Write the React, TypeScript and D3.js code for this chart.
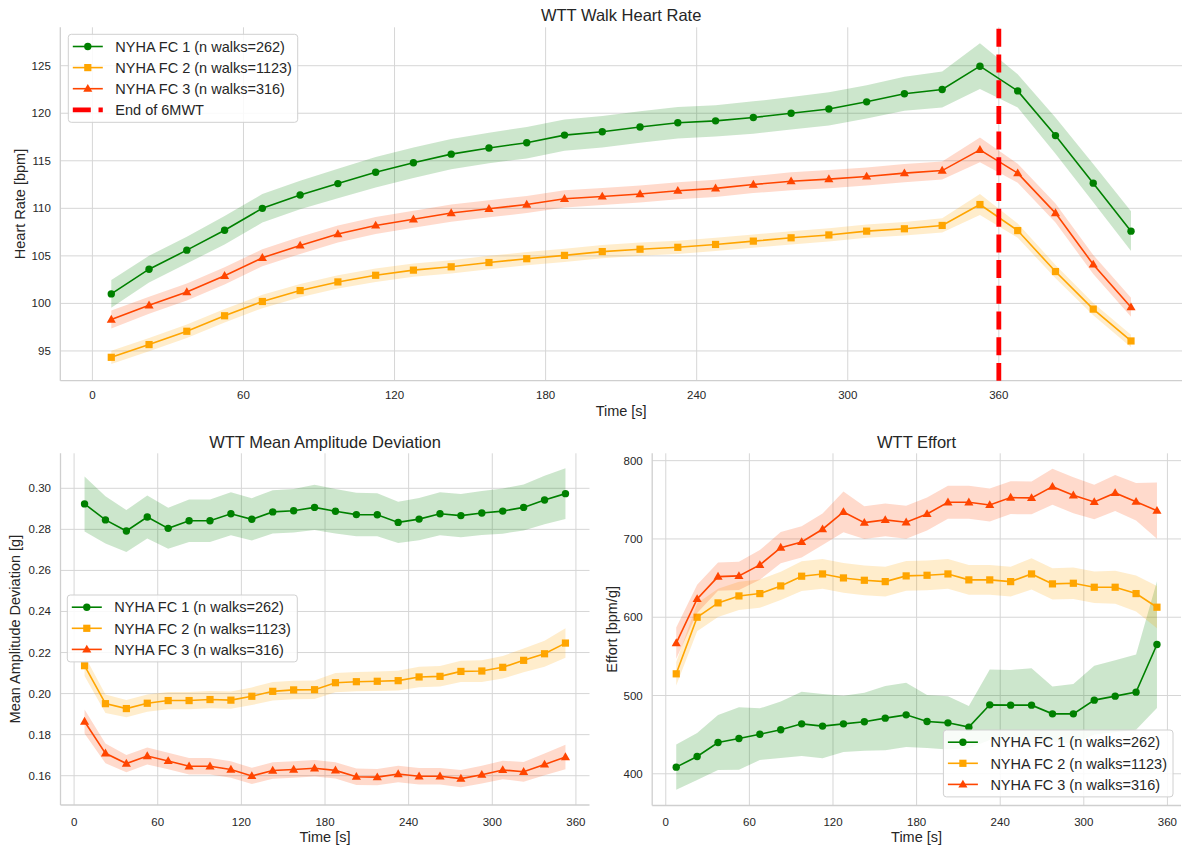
import React from 'react';
import * as d3 from 'd3';

// ---------------- DATA ----------------
const hrTime = [7.5, 22.5, 37.5, 52.5, 67.5, 82.5, 97.5, 112.5, 127.5, 142.5, 157.5, 172.5, 187.5, 202.5, 217.5, 232.5, 247.5, 262.5, 277.5, 292.5, 307.5, 322.5, 337.5, 352.5, 367.5, 382.5, 397.5, 412.5];
const hrFc1 = [101.0, 103.6, 105.6, 107.7, 110.0, 111.4, 112.6, 113.8, 114.8, 115.7, 116.35, 116.9, 117.7, 118.05, 118.55, 119.0, 119.2, 119.55, 120.0, 120.45, 121.2, 122.05, 122.5, 124.95, 122.35, 117.65, 112.65, 107.6];
const hrFc1Ci = [1.45, 1.4, 1.4, 1.5, 1.5, 1.5, 1.55, 1.6, 1.6, 1.6, 1.6, 1.65, 1.65, 1.65, 1.65, 1.65, 1.65, 1.7, 1.7, 1.75, 1.75, 1.8, 1.9, 2.4, 1.75, 1.9, 2.0, 2.1];
const hrFc2 = [94.33, 95.67, 97.07, 98.7, 100.2, 101.35, 102.26, 102.96, 103.5, 103.85, 104.3, 104.7, 105.05, 105.45, 105.7, 105.9, 106.2, 106.55, 106.9, 107.2, 107.6, 107.85, 108.2, 110.4, 107.66, 103.35, 99.4, 96.05];
const hrFc2Ci = [0.7, 0.7, 0.7, 0.7, 0.7, 0.7, 0.7, 0.7, 0.7, 0.7, 0.7, 0.7, 0.7, 0.7, 0.7, 0.7, 0.7, 0.7, 0.7, 0.7, 0.7, 0.7, 0.75, 1.1, 0.75, 0.7, 0.65, 0.65];
const hrFc3 = [98.3, 99.8, 101.2, 102.9, 104.8, 106.1, 107.3, 108.2, 108.85, 109.5, 109.95, 110.4, 111.0, 111.25, 111.5, 111.85, 112.1, 112.5, 112.85, 113.07, 113.35, 113.7, 113.97, 116.15, 113.7, 109.5, 104.1, 99.6];
const hrFc3Ci = [0.95, 0.9, 0.9, 0.9, 0.9, 0.9, 0.9, 0.9, 0.9, 0.9, 0.9, 0.9, 0.9, 0.9, 0.9, 0.9, 0.9, 0.9, 0.95, 0.95, 0.95, 0.95, 0.95, 1.3, 1.0, 1.0, 1.0, 1.0];

const wTime = [7.5, 22.5, 37.5, 52.5, 67.5, 82.5, 97.5, 112.5, 127.5, 142.5, 157.5, 172.5, 187.5, 202.5, 217.5, 232.5, 247.5, 262.5, 277.5, 292.5, 307.5, 322.5, 337.5, 352.5];

const madFc1 = [0.2924, 0.2846, 0.2792, 0.2860, 0.2805, 0.2842, 0.2842, 0.2876, 0.2849, 0.2885, 0.2891, 0.2907, 0.2888, 0.2872, 0.2871, 0.2834, 0.2850, 0.2876, 0.2867, 0.2880, 0.2889, 0.2907, 0.2943, 0.2974];
const madFc1Ci = [0.0134, 0.0115, 0.0102, 0.0105, 0.0100, 0.0103, 0.0103, 0.0105, 0.0103, 0.0105, 0.0106, 0.0110, 0.0108, 0.0106, 0.0105, 0.0100, 0.0103, 0.0105, 0.0105, 0.0107, 0.0110, 0.0112, 0.0118, 0.0124];
const madFc2 = [0.2136, 0.1951, 0.1927, 0.1953, 0.1966, 0.1966, 0.1971, 0.1968, 0.1987, 0.2011, 0.2018, 0.2019, 0.2053, 0.2058, 0.2060, 0.2063, 0.2081, 0.2084, 0.2108, 0.2110, 0.2128, 0.2162, 0.2194, 0.2246];
const madFc2Ci = [0.005, 0.0045, 0.0042, 0.0042, 0.0042, 0.0042, 0.0042, 0.0042, 0.0043, 0.0045, 0.0045, 0.0045, 0.0047, 0.0047, 0.0047, 0.0048, 0.0050, 0.0050, 0.0052, 0.0053, 0.0055, 0.0058, 0.0063, 0.0072];
const madFc3 = [0.1864, 0.1709, 0.1659, 0.1696, 0.1672, 0.1646, 0.1646, 0.1630, 0.1599, 0.1625, 0.1630, 0.1636, 0.1626, 0.1595, 0.1593, 0.1608, 0.1597, 0.1597, 0.1586, 0.1605, 0.1628, 0.1619, 0.1655, 0.1691];
const madFc3Ci = [0.0058, 0.0048, 0.0042, 0.0042, 0.0040, 0.0040, 0.0040, 0.0040, 0.0040, 0.0040, 0.0040, 0.0040, 0.0040, 0.0040, 0.0040, 0.0040, 0.0040, 0.0040, 0.0042, 0.0043, 0.0045, 0.0048, 0.0053, 0.0060];

const effFc1 = [408.5, 422.1, 440.0, 445.1, 450.6, 456.2, 463.8, 460.9, 463.8, 466.4, 471.1, 475.3, 466.8, 465.1, 459.6, 488.1, 487.7, 487.7, 476.6, 476.6, 494.1, 499.2, 504.3, 565.1];
const effFc1Ci = [29, 30, 35, 40, 33, 36, 41, 41, 36, 37, 41, 41, 34, 34, 27, 45, 45, 47, 35, 38, 44, 46, 48, 81];
const effFc2 = [527.7, 600.0, 618.3, 627.2, 630.2, 640.0, 652.4, 655.3, 650.2, 647.2, 645.5, 652.8, 653.6, 655.3, 647.7, 647.7, 645.5, 655.3, 642.6, 643.4, 638.3, 638.3, 630.2, 612.8];
const effFc2Ci = [15, 18, 18, 18, 18, 18, 19, 19, 19, 19, 19, 19, 19, 19, 19, 19, 19, 20, 20, 20, 20, 21, 23, 27];
const effFc3 = [566.9, 623.4, 651.9, 652.8, 666.8, 688.9, 696.2, 712.4, 734.5, 720.8, 724.3, 721.3, 731.9, 746.8, 746.8, 743.4, 752.8, 752.4, 766.8, 755.8, 747.2, 758.7, 747.6, 736.1];
const effFc3Ci = [20, 18, 18, 18, 19, 20, 20, 20, 26, 21, 21, 21, 21, 21, 21, 21, 21, 21, 23, 23, 22, 23, 24, 36];

const seriesNames = ['NYHA FC 1 (n walks=262)', 'NYHA FC 2 (n walks=1123)', 'NYHA FC 3 (n walks=316)'];
const endLabel = 'End of 6MWT';
const endTime = 360;

const xTicks = [0, 60, 120, 180, 240, 300, 360];
const hrTicks = [95, 100, 105, 110, 115, 120, 125];
const madTicks = [0.16, 0.18, 0.20, 0.22, 0.24, 0.26, 0.28, 0.30];
const effTicks = [400, 500, 600, 700, 800];

// ---------------- STYLE ----------------
const FONT = '"Liberation Sans", Arial, Helvetica, sans-serif';
const TXT = '#262626';
const GRID = '#d6d6d6';
const COLORS = ['#008000', '#FFA500', '#FF4500'];
const MARKERS = ['circle', 'square', 'triangle'];

type Ser = { name: string; color: string; marker: string; y: number[]; ci: number[] };

function Marker({ kind, x, y, color }: { kind: string; x: number; y: number; color: string }) {
  if (kind === 'circle') return <circle cx={x} cy={y} r={3.7} fill={color} />;
  if (kind === 'square') return <rect x={x - 3.6} y={y - 3.6} width={7.2} height={7.2} fill={color} />;
  const p = d3.symbol(d3.symbolTriangle, 36)() as string;
  return <path d={p} transform={`translate(${x},${y + 0.5})`} fill={color} />;
}

type LegendItem = { label: string; color: string; marker: string | null };

function Legend({ x, y, w, items }: { x: number; y: number; w: number; items: LegendItem[] }) {
  const h = 24.5 + (items.length - 1) * 21.1 + 0.2;
  return (
    <g>
      <rect x={x} y={y} width={w} height={h} rx={3} ry={3} fill="white" fillOpacity={0.85} stroke="#d0d0d0" strokeWidth={1} />
      {items.map((it, i) => {
        const cy = y + 12.2 + i * 21.1;
        return (
          <g key={i}>
            {it.marker ? (
              <>
                <line x1={x + 4.5} x2={x + 34.5} y1={cy} y2={cy} stroke={it.color} strokeWidth={1.6} />
                <Marker kind={it.marker} x={x + 19.5} y={cy} color={it.color} />
              </>
            ) : (
              <line x1={x + 4.5} x2={x + 34.5} y1={cy} y2={cy} stroke={it.color} strokeWidth={4.8} strokeDasharray="18 7.7" />
            )}
            <text x={x + 47} y={cy + 5.2} fontSize={14.5} fill={TXT} fontFamily={FONT}>{it.label}</text>
          </g>
        );
      })}
    </g>
  );
}

type PanelProps = {
  left: number; right: number; top: number; bottom: number;
  xDomain: [number, number]; yDomain: [number, number];
  yTicks: number[]; yFmt: (v: number) => string;
  time: number[]; series: Ser[];
  title: string; titleY: number; ylabel: string; ylabelX: number;
  xTickDy: number; xLabelDy: number;
  vline?: number;
  legend?: { x: number; y: number; w: number; items: LegendItem[] };
};

function Panel(p: PanelProps) {
  const x = d3.scaleLinear().domain(p.xDomain).range([p.left, p.right]);
  const y = d3.scaleLinear().domain(p.yDomain).range([p.bottom, p.top]);
  const cx = (p.left + p.right) / 2;
  const cy = (p.top + p.bottom) / 2;
  return (
    <g>
      {/* grid */}
      {xTicks.map(t => (
        <line key={'gx' + t} x1={x(t)} x2={x(t)} y1={p.top} y2={p.bottom} stroke={GRID} strokeWidth={1} />
      ))}
      {p.yTicks.map(t => (
        <line key={'gy' + t} x1={p.left} x2={p.right} y1={y(t)} y2={y(t)} stroke={GRID} strokeWidth={1} />
      ))}
      {/* spines */}
      <line x1={p.left} x2={p.left} y1={p.top} y2={p.bottom} stroke="#cfcfcf" strokeWidth={1.3} />
      <line x1={p.left} x2={p.right} y1={p.bottom} y2={p.bottom} stroke="#cfcfcf" strokeWidth={1.3} />
      {/* series */}
      {p.series.map((s, si) => {
        const area = d3.area<number>()
          .x((_, i) => x(p.time[i]))
          .y0((d, i) => y(d - s.ci[i]))
          .y1((d, i) => y(d + s.ci[i]));
        const line = d3.line<number>().x((_, i) => x(p.time[i])).y(d => y(d));
        return (
          <g key={si}>
            <path d={area(s.y) as string} fill={s.color} fillOpacity={0.2} stroke="none" />
            <path d={line(s.y) as string} fill="none" stroke={s.color} strokeWidth={1.6} />
            {s.y.map((v, i) => (
              <Marker key={i} kind={s.marker} x={x(p.time[i])} y={y(v)} color={s.color} />
            ))}
          </g>
        );
      })}
      {p.vline !== undefined && (
        <line x1={x(p.vline)} x2={x(p.vline)} y1={p.top + 1.5} y2={p.bottom} stroke="#FF0000" strokeWidth={4.8} strokeDasharray="18 7.7" />
      )}
      {/* tick labels */}
      {xTicks.map(t => (
        <text key={'tx' + t} x={x(t)} y={p.bottom + p.xTickDy + 4} textAnchor="middle" fontSize={11.5} fill={TXT} fontFamily={FONT}>{t}</text>
      ))}
      {p.yTicks.map(t => (
        <text key={'ty' + t} x={p.left - 9.5} y={y(t) + 4} textAnchor="end" fontSize={11.5} fill={TXT} fontFamily={FONT}>{p.yFmt(t)}</text>
      ))}
      {/* labels */}
      <text x={cx} y={p.bottom + p.xLabelDy + 5} textAnchor="middle" fontSize={14.5} fill={TXT} fontFamily={FONT}>Time [s]</text>
      <text transform={`translate(${p.ylabelX + 5},${cy}) rotate(-90)`} textAnchor="middle" fontSize={14.5} fill={TXT} fontFamily={FONT}>{p.ylabel}</text>
      <text x={cx} y={p.titleY + 5.8} textAnchor="middle" fontSize={16.5} fill={TXT} fontFamily={FONT}>{p.title}</text>
      {p.legend && <Legend {...p.legend} />}
    </g>
  );
}

function mk(ys: number[][], cis: number[][]): Ser[] {
  return ys.map((y, i) => ({ name: seriesNames[i], color: COLORS[i], marker: MARKERS[i], y, ci: cis[i] }));
}

export default function App() {
  const hrSeries = mk([hrFc1, hrFc2, hrFc3], [hrFc1Ci, hrFc2Ci, hrFc3Ci]);
  const madSeries = mk([madFc1, madFc2, madFc3], [madFc1Ci, madFc2Ci, madFc3Ci]);
  const effSeries = mk([effFc1, effFc2, effFc3], [effFc1Ci, effFc2Ci, effFc3Ci]);
  const baseItems: LegendItem[] = seriesNames.map((n, i) => ({ label: n, color: COLORS[i], marker: MARKERS[i] }));
  const topItems: LegendItem[] = [...baseItems, { label: endLabel, color: '#FF0000', marker: null }];
  return (
    <svg width={1184} height={849} style={{ position: 'absolute', left: 0, top: 0, background: 'white' }}>
      <rect x={0} y={0} width={1184} height={849} fill="white" />
      <Panel
        left={60.3} right={1182} top={27.3} bottom={380.7}
        xDomain={[-12.75, 432.75]} yDomain={[91.87, 129.04]}
        yTicks={hrTicks} yFmt={v => String(v)}
        time={hrTime} series={hrSeries}
        title="WTT Walk Heart Rate" titleY={15} ylabel="Heart Rate [bpm]" ylabelX={20}
        xTickDy={14.3} xLabelDy={29.8}
        vline={endTime}
        legend={{ x: 68.3, y: 34.3, w: 229.4, items: topItems }}
      />
      <Panel
        left={60.5} right={589.5} top={453.3} bottom={805}
        xDomain={[-9.75, 369.75]} yDomain={[0.14573, 0.31705]}
        yTicks={madTicks} yFmt={v => v.toFixed(2)}
        time={wTime} series={madSeries}
        title="WTT Mean Amplitude Deviation" titleY={441.7} ylabel="Mean Amplitude Deviation [g]" ylabelX={15}
        xTickDy={16.5} xLabelDy={31.6}
        legend={{ x: 67.3, y: 595, w: 230, items: baseItems }}
      />
      <Panel
        left={652.2} right={1181} top={453.3} bottom={805.5}
        xDomain={[-9.75, 369.75]} yDomain={[359.5, 809.4]}
        yTicks={effTicks} yFmt={v => String(v)}
        time={wTime} series={effSeries}
        title="WTT Effort" titleY={441.7} ylabel="Effort [bpm/g]" ylabelX={611.5}
        xTickDy={16.2} xLabelDy={31.2}
        legend={{ x: 943.4, y: 730, w: 229.6, items: baseItems }}
      />
    </svg>
  );
}
